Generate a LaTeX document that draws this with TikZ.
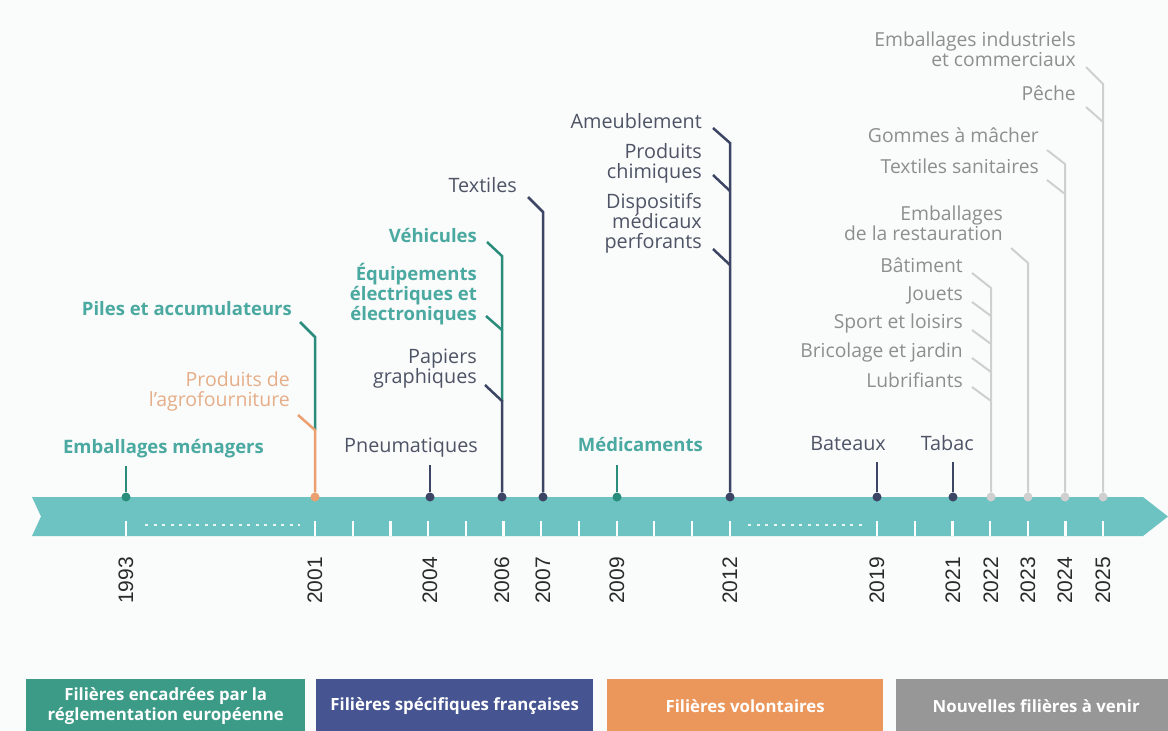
\documentclass[tikz,border=0pt]{standalone}
\usepackage{fontspec}
\setmainfont{Open Sans}
\newfontfamily\yearfont{Liberation Sans}
\definecolor{bgc}{HTML}{FAFBFB}
\definecolor{bandc}{HTML}{6CC3C1}
\definecolor{tealtxt}{HTML}{4AA9A0}
\definecolor{tealline}{HTML}{2A8C7A}
\definecolor{navytxt}{HTML}{4E5466}
\definecolor{navyline}{HTML}{3C4664}
\definecolor{orangetxt}{HTML}{E6AE88}
\definecolor{orangeline}{HTML}{ECA070}
\definecolor{graytxt}{HTML}{8E8E8E}
\definecolor{grayline}{HTML}{CFCFCF}
\definecolor{legA}{HTML}{3C9B87}
\definecolor{legB}{HTML}{465591}
\definecolor{legC}{HTML}{EB975C}
\definecolor{legD}{HTML}{979797}
\definecolor{yearc}{HTML}{2A2A2A}
\tikzset{
  lbl/.style={inner sep=0pt, anchor=base east, align=right},
  eutxt/.style={lbl, text=tealtxt, font=\fontsize{18.5}{20}\selectfont\bfseries},
  frtxt/.style={lbl, text=navytxt, font=\fontsize{19.8}{20}\selectfont},
  voltxt/.style={lbl, text=orangetxt, font=\fontsize{19.5}{19.5}\selectfont},
  newtxt/.style={lbl, text=graytxt, font=\fontsize{19.3}{19.5}\selectfont},
  euline/.style={draw=tealline, line width=2.5pt},
  frline/.style={draw=navyline, line width=2.5pt},
  volline/.style={draw=orangeline, line width=2.5pt},
  newline/.style={draw=grayline, line width=2pt},
  dotn/.style={circle, inner sep=0pt, minimum size=9pt},
  yearlbl/.style={rotate=90, anchor=east, inner sep=0pt, text=yearc, font=\yearfont\fontsize{21}{22}\selectfont},
  tickl/.style={draw=white, line width=2.2pt},
  legbox/.style={anchor=north west, inner sep=0pt, minimum height=54pt, text=white, align=center, font=\fontsize{16.8}{19.5}\selectfont\bfseries}
}
\begin{document}
\begin{tikzpicture}[x=1pt,y=-1pt]
\useasboundingbox (0,0) rectangle (1168,731);
\fill[bgc] (0,0) rectangle (1168,731);

% timeline band
\fill[bandc] (32,497) -- (1143,497) -- (1168,516.5) -- (1143,536) -- (32,536) -- (41,516.5) -- cycle;
\foreach \x in {126,315,352.7,390.4,428.1,465.8,503.5,541.2,578.9,616.6,654.3,692,729.7,877,914.7,952.4,990.1,1027.8,1065.5,1103.2}
  \draw[tickl] (\x,521) -- (\x,536);
\draw[white, line width=2pt, dash pattern=on 3pt off 5.5pt, opacity=.85] (145,525) -- (300,525);
\draw[white, line width=2pt, dash pattern=on 3pt off 5.5pt, opacity=.85] (748,525) -- (862,525);

% dots
\node[dotn, fill=tealline] (d1993) at (126,497) {};
\node[dotn, fill=orangeline] (d2001) at (315,497) {};
\node[dotn, fill=navyline] (d2004) at (430,497) {};
\node[dotn, fill=navyline] (d2006) at (502,497) {};
\node[dotn, fill=navyline] (d2007) at (543,497) {};
\node[dotn, fill=tealline] (d2009) at (617,497) {};
\node[dotn, fill=navyline] (d2012) at (730,497) {};
\node[dotn, fill=navyline] (d2019) at (877,497) {};
\node[dotn, fill=navyline] (d2021) at (953,497) {};
\node[dotn, fill=grayline] (d2022) at (991,497) {};
\node[dotn, fill=grayline] (d2023) at (1028,497) {};
\node[dotn, fill=grayline] (d2024) at (1065,497) {};
\node[dotn, fill=grayline] (d2025) at (1103,497) {};

% years
\node[yearlbl] (y1993) at (126,557) {1993};
\node[yearlbl] (y2001) at (315,557) {2001};
\node[yearlbl] (y2004) at (430,557) {2004};
\node[yearlbl] (y2006) at (502,557) {2006};
\node[yearlbl] (y2007) at (543,557) {2007};
\node[yearlbl] (y2009) at (617,557) {2009};
\node[yearlbl] (y2012) at (730,557) {2012};
\node[yearlbl] (y2019) at (877,557) {2019};
\node[yearlbl] (y2021) at (953,557) {2021};
\node[yearlbl] (y2022) at (991,557) {2022};
\node[yearlbl] (y2023) at (1028,557) {2023};
\node[yearlbl] (y2024) at (1065,557) {2024};
\node[yearlbl] (y2025) at (1103,557) {2025};

% labels (base = last line baseline)
\node[eutxt] (lEmbMen) at (264,453) {Emballages ménagers};
\node[eutxt] (lPiles) at (292,315) {Piles et accumulateurs};
\node[voltxt] (lAgro) at (290,406) {Produits de\\l'agrofourniture};
\node[eutxt] (lVeh) at (477,242) {Véhicules};
\node[eutxt] (lEquip) at (477,320) {Équipements\\électriques et\\électroniques};
\node[frtxt] (lPap) at (477,383) {Papiers\\graphiques};
\node[frtxt] (lText) at (517,192) {Textiles};
\node[frtxt] (lPneu) at (478,452) {Pneumatiques};
\node[eutxt] (lMed) at (703,451) {Médicaments};
\node[frtxt] (lAmeu) at (702,128) {Ameublement};
\node[frtxt] (lChim) at (702,178) {Produits\\chimiques};
\node[frtxt] (lDisp) at (702,248) {Dispositifs\\médicaux\\perforants};
\node[frtxt] (lBat) at (886,450) {Bateaux};
\node[frtxt] (lTab) at (974,450) {Tabac};
\node[newtxt] (lEmbInd) at (1076,66) {Emballages industriels\\et commerciaux};
\node[newtxt] (lPeche) at (1076,100) {Pêche};
\node[newtxt] (lGom) at (1039,142) {Gommes à mâcher};
\node[newtxt] (lTexSan) at (1039,173) {Textiles sanitaires};
\node[newtxt] (lEmbRes) at (1003,240) {Emballages\\de la restauration};
\node[newtxt] (lBati) at (963,272) {Bâtiment};
\node[newtxt] (lJou) at (963,300) {Jouets};
\node[newtxt] (lSport) at (963,328) {Sport et loisirs};
\node[newtxt] (lBric) at (963,357) {Bricolage et jardin};
\node[newtxt] (lLub) at (963,387) {Lubrifiants};

% connector points
\coordinate (k1993) at (126,466);
\coordinate (pA) at (300,322); \coordinate (pK) at (315,337);
\coordinate (oA) at (298,415); \coordinate (oK) at (315,430);
\coordinate (k2004) at (430,465);
\coordinate (vA) at (487,242); \coordinate (vK) at (502,256);
\coordinate (eA) at (486,316); \coordinate (eK) at (502,330);
\coordinate (gA) at (485,385); \coordinate (gK) at (502,401);
\coordinate (tA) at (528,197); \coordinate (tK) at (543,212);
\coordinate (k2009) at (617,465);
\coordinate (amA) at (713,128); \coordinate (amK) at (730,143);
\coordinate (chA) at (713,175); \coordinate (chK) at (730,191);
\coordinate (diA) at (713,249); \coordinate (diK) at (730,265);
\coordinate (k2019) at (877,462);
\coordinate (k2021) at (953,462);
\coordinate (baA) at (972,273); \coordinate (baK) at (991,288);
\coordinate (joA) at (972,302); \coordinate (joK) at (991,316);
\coordinate (spA) at (972,330); \coordinate (spK) at (991,344);
\coordinate (brA) at (972,358); \coordinate (brK) at (991,372);
\coordinate (luA) at (972,387); \coordinate (luK) at (991,401);
\coordinate (erA) at (1011,248); \coordinate (erK) at (1028,263);
\coordinate (goA) at (1047,150); \coordinate (goK) at (1065,164);
\coordinate (tsA) at (1047,180); \coordinate (tsK) at (1065,194);
\coordinate (eiA) at (1086,67); \coordinate (eiK) at (1103,84);
\coordinate (peA) at (1086,107); \coordinate (peK) at (1103,122);

% connectors
\draw[euline] (k1993) -- (d1993);
\draw[euline] (pA) -- (pK) -- (oK);
\draw[volline] (oA) -- (oK) -- (d2001);
\draw[frline] (k2004) -- (d2004);
\draw[euline] (vA) -- (vK) -- (gK);
\draw[euline] (eA) -- (eK);
\draw[frline] (gA) -- (gK) -- (d2006);
\draw[frline] (tA) -- (tK) -- (d2007);
\draw[euline] (k2009) -- (d2009);
\draw[frline] (amA) -- (amK) -- (d2012);
\draw[frline] (chA) -- (chK);
\draw[frline] (diA) -- (diK);
\draw[frline] (k2019) -- (d2019);
\draw[frline] (k2021) -- (d2021);
\draw[newline] (baA) -- (baK) -- (d2022);
\draw[newline] (joA) -- (joK);
\draw[newline] (spA) -- (spK);
\draw[newline] (brA) -- (brK);
\draw[newline] (luA) -- (luK);
\draw[newline] (erA) -- (erK) -- (d2023);
\draw[newline] (goA) -- (goK) -- (d2024);
\draw[newline] (tsA) -- (tsK);
\draw[newline] (eiA) -- (eiK) -- (d2025);
\draw[newline] (peA) -- (peK);

% legend
\node[legbox, fill=legA, minimum width=279pt] (legEU) at (26,679) {Filières encadrées par la\\réglementation européenne};
\node[legbox, fill=legB, minimum width=277pt] (legFR) at (316,679) {Filières spécifiques françaises};
\node[legbox, fill=legC, minimum width=276pt] (legVol) at (607,679) {Filières volontaires};
\node[legbox, fill=legD, minimum width=280pt] (legNew) at (896,679) {Nouvelles filières à venir};
\end{tikzpicture}
\end{document}
